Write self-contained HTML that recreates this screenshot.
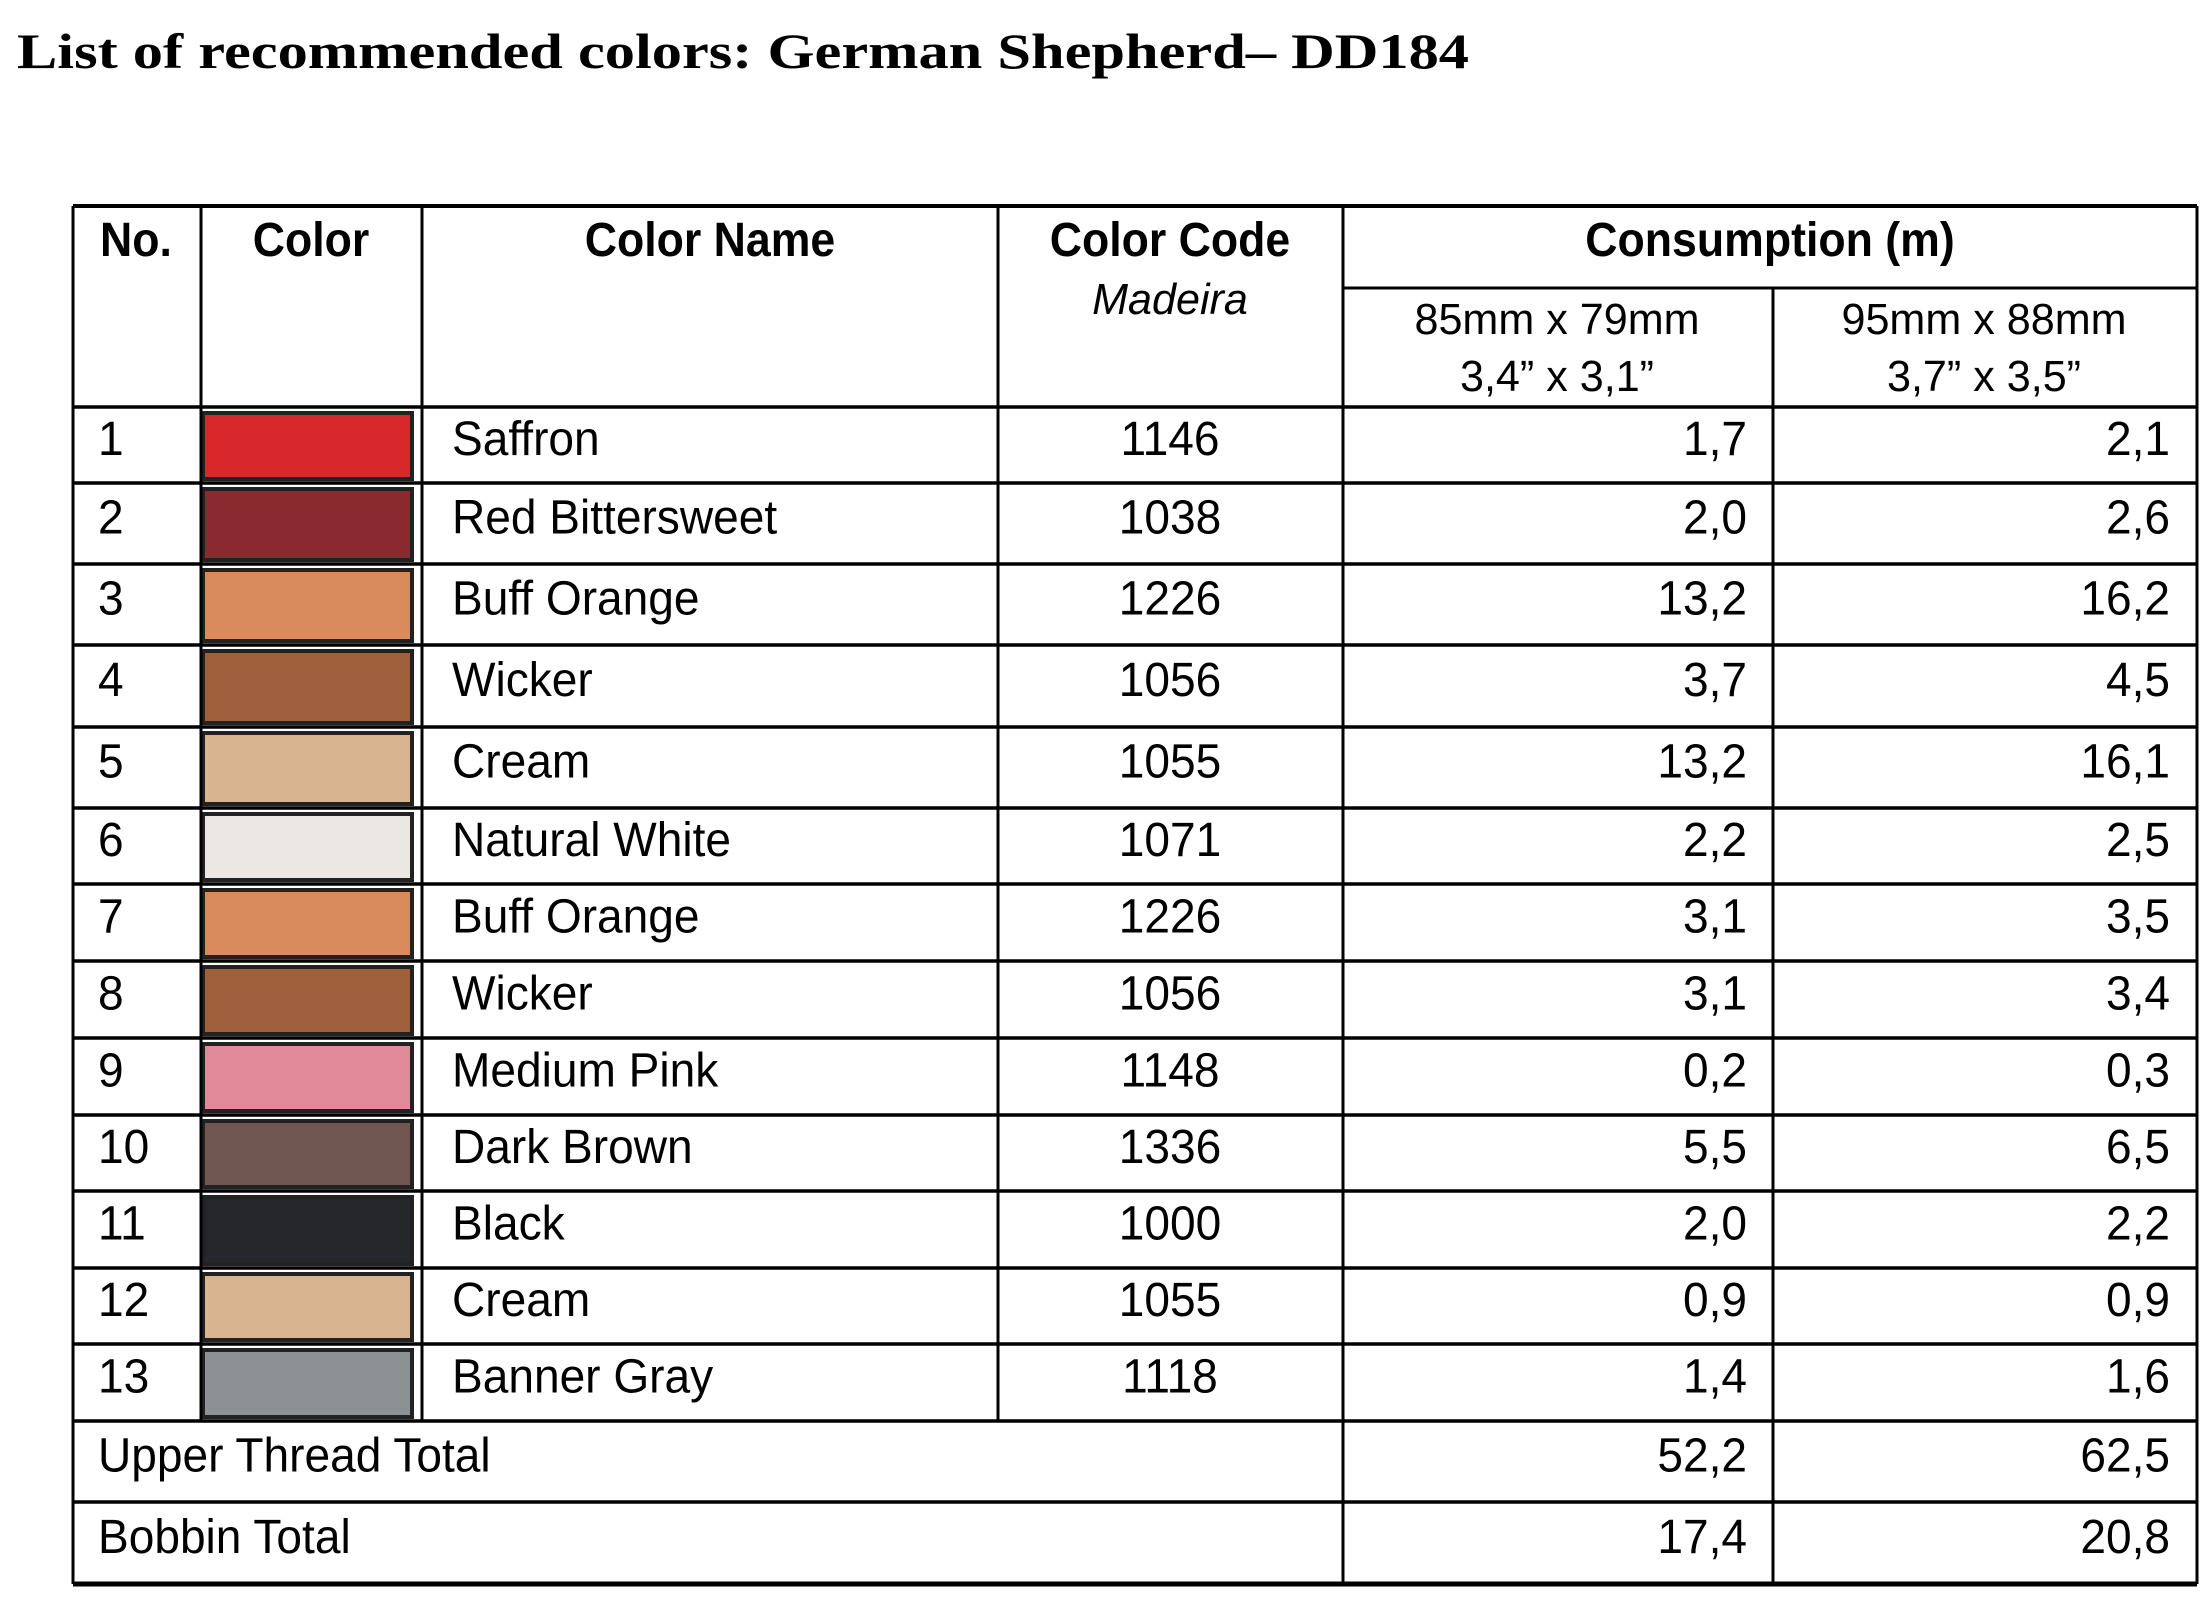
<!DOCTYPE html>
<html><head><meta charset="utf-8"><style>
html,body{margin:0;padding:0;background:#fff;width:2200px;height:1606px;overflow:hidden}
svg{display:block}
text{font-family:"Liberation Sans",sans-serif;fill:#000}
</style></head><body>
<svg id="tbl" width="2200" height="1606" xmlns="http://www.w3.org/2000/svg">
<text x="17" y="68" font-family="Liberation Serif" font-weight="bold" font-size="50" textLength="1452" lengthAdjust="spacingAndGlyphs" style="font-family:'Liberation Serif',serif">List of recommended colors: German Shepherd– DD184</text>
</svg>
<script>
const nos=["1","2","3","4","5","6","7","8","9","10","11","12","13"];
const names=["Saffron","Red Bittersweet","Buff Orange","Wicker","Cream","Natural White","Buff Orange","Wicker","Medium Pink","Dark Brown","Black","Cream","Banner Gray"];
const codes=["1146","1038","1226","1056","1055","1071","1226","1056","1148","1336","1000","1055","1118"];
const swatches=["#d8282c","#8a2a30","#d98b5d","#a0603e","#d9b491","#ebe8e3","#d98b5d","#a0603e","#e08a9a","#705850","#26272b","#d9b491","#8c9294"];
const small=["1,7","2,0","13,2","3,7","13,2","2,2","3,1","3,1","0,2","5,5","2,0","0,9","1,4"];
const large=["2,1","2,6","16,2","4,5","16,1","2,5","3,5","3,4","0,3","6,5","2,2","0,9","1,6"];
const totalLabels=["Upper Thread Total","Bobbin Total"];
const totalSmall=["52,2","17,4"];
const totalLarge=["62,5","20,8"];
const svg=document.getElementById('tbl');
const NS="http://www.w3.org/2000/svg";
const cols=[73,201,422,998,1343,1773,2197];
const rowY=[407,483,564,645,727,808,884,961,1038,1115,1191,1268,1344,1421,1502,1584];
function txt(x,y,s,opt){const t=document.createElementNS(NS,'text');t.setAttribute('x',x);t.setAttribute('y',y);t.setAttribute('font-size',opt.size||48);if(opt.anchor)t.setAttribute('text-anchor',opt.anchor);if(opt.bold)t.setAttribute('font-weight','bold');if(opt.italic)t.setAttribute('font-style','italic');const sc=opt.sc||0.96;t.setAttribute('transform',`translate(${x},0) scale(${sc},1) translate(${-x},0)`);t.textContent=s;svg.appendChild(t);return t;}
function line(x1,y1,x2,y2,w){const l=document.createElementNS(NS,'line');l.setAttribute('x1',x1);l.setAttribute('y1',y1);l.setAttribute('x2',x2);l.setAttribute('y2',y2);l.setAttribute('stroke','#000');l.setAttribute('stroke-width',w||3);svg.appendChild(l);return l;}
let h;
h=txt(136,256,"No.",{bold:1,anchor:'middle',size:48,sc:0.93});
h=txt(311,256,"Color",{bold:1,anchor:'middle',size:48,sc:0.93});
h=txt(710,256,"Color Name",{bold:1,anchor:'middle',size:48,sc:0.93});
h=txt(1170,256,"Color Code",{bold:1,anchor:'middle',size:48,sc:0.93});
h=txt(1170,314,"Madeira",{italic:1,anchor:'middle',size:44,sc:0.98});
h=txt(1770,256,"Consumption (m)",{bold:1,anchor:'middle',size:48,sc:0.93});
h=txt(1557,334,"85mm x 79mm",{anchor:'middle',size:44,sc:0.98});
h=txt(1557,391,"3,4” x 3,1”",{anchor:'middle',size:44,sc:0.98});
h=txt(1984,334,"95mm x 88mm",{anchor:'middle',size:44,sc:0.98});
h=txt(1984,391,"3,7” x 3,5”",{anchor:'middle',size:44,sc:0.98});
for(let i=0;i<nos.length;i++){
 const y0=rowY[i],y1=rowY[i+1],b=(y0+y1)/2+10;
 const r=document.createElementNS(NS,'rect');
 r.setAttribute('x',203);r.setAttribute('y',y0+6);r.setAttribute('width',209);r.setAttribute('height',y1-y0-10);
 r.setAttribute('fill',swatches[i]);r.setAttribute('stroke','#222');r.setAttribute('stroke-width',4);
 
 
 svg.appendChild(r);
 let t=txt(98,b,nos[i],{});
 
 
 t=txt(452,b,names[i],{});
 
 
 t=txt(1170,b,codes[i],{anchor:'middle'});
 
 
 t=txt(1747,b,small[i],{anchor:'end'});
 
 
 t=txt(2170,b,large[i],{anchor:'end'});
 
 
}
for(let k=0;k<2;k++){
 const y0=rowY[13+k],y1=rowY[14+k],b=(y0+y1)/2+10;
 let t=txt(98,b,totalLabels[k],{});
 
 
 t=txt(1747,b,totalSmall[k],{anchor:'end'});
 
 
 t=txt(2170,b,totalLarge[k],{anchor:'end'});
 
 
}
line(cols[0],206,cols[6],206,4);
line(cols[4],288,cols[6],288,3);
for(const y of rowY)line(cols[0],y,cols[6],y,y===1584?5:3.5);
line(cols[0],206,cols[0],1584,3);
line(cols[6],206,cols[6],1584,3);
line(cols[1],206,cols[1],1421,3);
line(cols[2],206,cols[2],1421,3);
line(cols[3],206,cols[3],1421,3);
line(cols[4],206,cols[4],1584,3);
line(cols[5],288,cols[5],1584,3);
</script>
</body></html>
